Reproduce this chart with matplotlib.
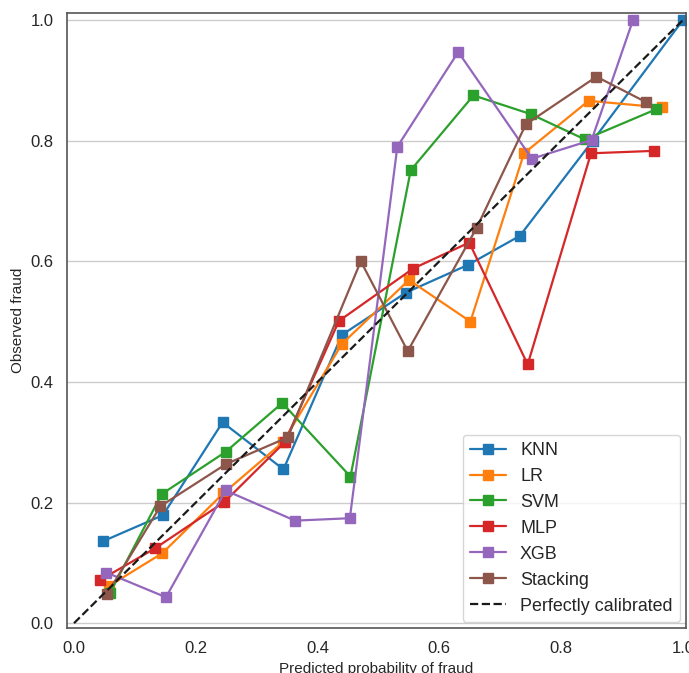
import numpy as np
import matplotlib
matplotlib.use('Agg')
import matplotlib.pyplot as plt
import seaborn as sns

# 各模型的校准曲线数据
knn_x = [0.048, 0.146, 0.244, 0.344, 0.440, 0.545, 0.647, 0.732, 0.852, 1.000]
knn_y = [0.136, 0.179, 0.333, 0.255, 0.478, 0.548, 0.594, 0.642, 0.800, 1.000]

lr_x = [0.058, 0.145, 0.245, 0.343, 0.440, 0.550, 0.651, 0.739, 0.845, 0.965]
lr_y = [0.062, 0.116, 0.215, 0.300, 0.463, 0.569, 0.500, 0.779, 0.866, 0.855]

svm_x = [0.059, 0.144, 0.249, 0.342, 0.454, 0.553, 0.656, 0.750, 0.839, 0.956]
svm_y = [0.050, 0.214, 0.284, 0.365, 0.243, 0.751, 0.875, 0.844, 0.802, 0.852]

mlp_x = [0.042, 0.133, 0.247, 0.346, 0.435, 0.557, 0.649, 0.745, 0.849, 0.952]
mlp_y = [0.071, 0.124, 0.201, 0.300, 0.501, 0.588, 0.631, 0.429, 0.779, 0.783]

xgb_x = [0.053, 0.151, 0.249, 0.363, 0.453, 0.531, 0.631, 0.752, 0.850, 0.918]
xgb_y = [0.084, 0.043, 0.220, 0.170, 0.174, 0.790, 0.947, 0.770, 0.801, 1.000]

stack_x = [0.054, 0.142, 0.250, 0.351, 0.471, 0.548, 0.661, 0.742, 0.858, 0.939]
stack_y = [0.048, 0.194, 0.264, 0.308, 0.600, 0.451, 0.655, 0.827, 0.906, 0.864]

models = ['KNN', 'LR', 'SVM', 'MLP', 'XGB', 'Stacking']
xs = [knn_x, lr_x, svm_x, mlp_x, xgb_x, stack_x]
ys = [knn_y, lr_y, svm_y, mlp_y, xgb_y, stack_y]

sns.set_theme(style='white')
plt.rcParams['font.family'] = ['Liberation Sans', 'DejaVu Sans']

fig = plt.figure(figsize=(6.89, 6.73), dpi=100)
ax = fig.add_axes([67/689, 1-628/673, (686-67)/689, (628-13)/673])

colors = plt.get_cmap('tab10').colors
for i, name in enumerate(models):
    ax.plot(xs[i], ys[i], marker='s', markersize=6.5, linewidth=1.6,
            color=colors[i], label=name)
ax.plot([0, 1], [0, 1], 'k--', linewidth=1.6, label='Perfectly calibrated')

ax.set_xlim(-0.0115, 1.005)
ax.set_ylim(-0.008, 1.0116)
ax.yaxis.grid(True, color='#cccccc', linewidth=1)
ax.xaxis.grid(False)
ax.set_axisbelow(True)
for s in ax.spines.values():
    s.set_color('#555555')
    s.set_linewidth(1.2)
ax.tick_params(labelsize=12)
ax.set_xticks([0, 0.2, 0.4, 0.6, 0.8, 1.0])
ax.set_yticks([0, 0.2, 0.4, 0.6, 0.8, 1.0])
ax.set_xlabel('Predicted probability of fraud', fontsize=11)
ax.set_ylabel('Observed fraud', fontsize=11)
ax.legend(loc='lower right', fontsize=12.9, frameon=True, borderaxespad=0.35)

plt.savefig('out.png', dpi=100)
